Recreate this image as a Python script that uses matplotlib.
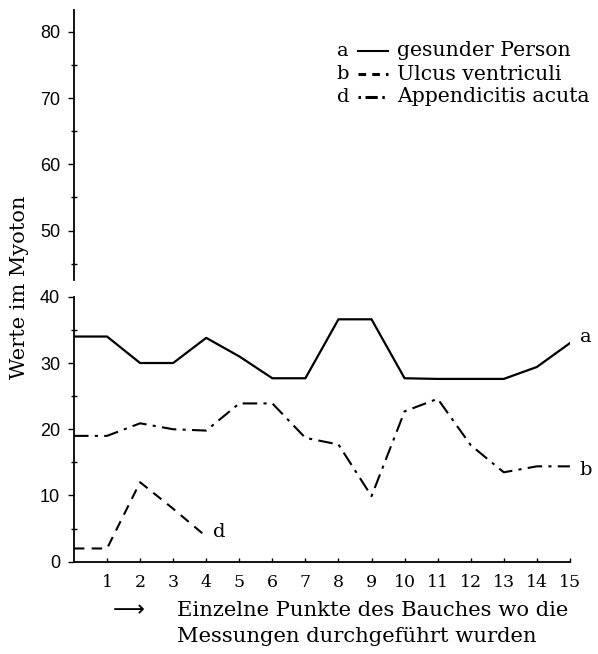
import numpy as np
import matplotlib
matplotlib.use("Agg")
from matplotlib import pyplot as plt

points = np.arange(0, 16)
a_gesund = [34, 34, 30, 30, 33.8, 31, 27.7, 27.7, 36.6, 36.6, 27.7, 27.6, 27.6, 27.6, 29.4, 33]
b_ulcus = [19, 19, 20.9, 20, 19.8, 23.9, 23.9, 18.7, 17.7, 9.9, 22.7, 24.6, 17.6, 13.5, 14.4, 14.4]
d_points = [0, 1, 2, 3, 4]
d_append = [2, 2, 12, 8, 3.8]

x_ticks = list(range(1, 16))
y_ticks = [0, 10, 20, 30, 40, 50, 60, 70, 80]

serif = "DejaVu Serif"
plt.rcParams['font.family'] = serif

fig = plt.figure(figsize=(5.98, 6.54), dpi=100)
ax = fig.add_axes([0.1237, 0.1411, 0.953 - 0.1237, 0.9847 - 0.1411])

ax.plot(points, a_gesund, color='black', lw=1.6, ls='-')
ax.plot(points, b_ulcus, color='black', lw=1.5, ls=(0, (7, 3, 1.5, 3)))
ax.plot(d_points, d_append, color='black', lw=1.5, ls=(0, (5, 3.5)))

ax.set_xlim(0, 15)
ax.set_ylim(0, 83.3)

for s in ['top', 'right']:
    ax.spines[s].set_visible(False)
ax.spines['left'].set_bounds(0, 40)
ax.spines['left'].set_linewidth(1.3)
ax.spines['bottom'].set_linewidth(1.3)
# upper part of the broken y axis
ax.plot([0, 0], [42.5, 83.3], transform=ax.get_yaxis_transform(), color='black',
        lw=1.3, clip_on=False)

ax.set_xticks(x_ticks)
ax.set_xticklabels([str(t) for t in x_ticks], fontsize=12.5, family=serif)
ax.set_yticks(y_ticks)
ax.set_yticklabels([str(t) for t in y_ticks], fontsize=13, family='Liberation Sans')
ax.set_yticks(np.arange(5, 80, 10), minor=True)
ax.tick_params(axis='y', which='major', direction='out', length=4, width=1, pad=6)
ax.tick_params(axis='y', which='minor', direction='inout', length=4, width=1)
ax.tick_params(axis='x', which='major', direction='in', length=3, width=1, pad=9)

ax.set_ylabel("Werte im Myoton", fontsize=15)
ax.yaxis.set_label_coords(-0.09, 41.5 / 83.3)

# line end labels
ax.text(15.3, 34, "a", fontsize=14, va='center', ha='left')
ax.text(15.3, 13.9, "b", fontsize=14, va='center', ha='left')
ax.text(4.2, 4.5, "d", fontsize=14, va='center', ha='left')

# legend drawn as in the original
leg_rows = [("a", "gesunder Person", '-', 51),
            ("b", "Ulcus ventriculi", (0, (2.5, 2)), 74),
            ("d", "Appendicitis acuta", (0, (0.8, 1.5, 4, 1.5)), 97)]
for letter, label, style, ypix in leg_rows:
    yf = 1 - ypix / 654
    fig.text(343 / 598, yf, letter, fontsize=14, ha='center', va='center')
    fig.add_artist(plt.Line2D([358 / 598, 388 / 598], [yf, yf], color='black',
                              lw=1.5 if style == '-' else 2.2, ls=style))
    fig.text(397 / 598, yf, label, fontsize=14.7, ha='left', va='center')

fig.text(113 / 598, 1 - 610 / 654, "\u27f6", fontsize=16, ha='left', va='center',
         family='DejaVu Sans')
fig.text(177 / 598, 1 - 610 / 654, "Einzelne Punkte des Bauches wo die",
         fontsize=15.2, ha='left', va='center')
fig.text(177 / 598, 1 - 637 / 654, "Messungen durchgeführt wurden",
         fontsize=15.2, ha='left', va='center')

fig.savefig("out.png", dpi=100)
